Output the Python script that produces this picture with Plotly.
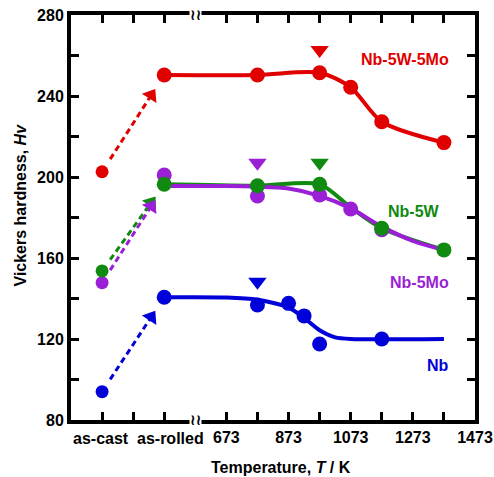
import plotly.graph_objects as go

# x positions: as-cast / as-rolled are placed on a broken temperature axis
X_CAST = 273
X_ROLL = 473
X_BREAK = 573

tick_vals = [273, 373, 473, 673, 773, 873, 973, 1073, 1173, 1273, 1373, 1473]
tick_text = ["", "", "", "673", "", "873", "", "1073", "", "1273", "", "1473"]
cat_labels = ["as-cast", "as-rolled"]

# ---- Nb-5W-5Mo (red)
red_cast = 202.6
red_x = [473, 773, 973, 1073, 1173, 1373]
red_y = [250.4, 250.4, 251.5, 244.3, 227.3, 217.0]

# ---- Nb-5W (green)
green_cast = 153.6
green_x = [473, 773, 973, 1173, 1373]
green_y = [196.4, 195.7, 196.4, 174.7, 164.0]
green_line_x = [473, 773, 973, 1073, 1173, 1373]
green_line_y = [196.4, 195.7, 196.4, 185.0, 174.7, 164.0]

# ---- Nb-5Mo (purple)
purple_cast = 147.8
purple_x = [473, 773, 973, 1073, 1173]
purple_y = [201.0, 190.6, 191.1, 184.2, 174.0]
purple_fit_x = [473, 673, 773, 873, 973, 1073, 1173, 1273, 1373]
purple_fit_y = [195.6, 195.6, 195.3, 194.3, 190.7, 184.5, 175.5, 168.5, 164.0]

# ---- Nb (blue)
blue_cast = 94.0
blue_x = [473, 773, 873, 923, 973, 1173]
blue_y = [140.6, 136.8, 137.6, 131.4, 117.5, 120.0]
blue_fit_x = [473, 673, 773, 873, 923, 973, 1023, 1073, 1373]
blue_fit_y = [140.6, 140.5, 139.4, 135.6, 130.4, 124.3, 120.8, 120.0, 120.0]

# ---- marker triangles (onset marks)
tri_x = [973, 773, 973, 773]
tri_y = [262.7, 207.0, 207.0, 148.3]

# ---- labels
labels = ["Nb-5W-5Mo", "Nb-5W", "Nb-5Mo", "Nb"]
label_x = [1395, 1366, 1395, 1395]
label_y = [257.8, 183.2, 147.8, 106.7]

RED = "#e00000"
GREEN = "#108a10"
PURPLE = "#9a1fd6"
BLUE = "#0000d8"
tri_c = [RED, PURPLE, GREEN, BLUE]

FONT = "Liberation Sans, Arial, sans-serif"

fig = go.Figure()


def arrow(cast_val, roll_val, color):
    t0, t1 = 0.13, 0.79
    xs = [X_CAST + t0 * (X_ROLL - X_CAST), X_CAST + t1 * (X_ROLL - X_CAST)]
    ys = [cast_val + t0 * (roll_val - cast_val), cast_val + t1 * (roll_val - cast_val)]
    fig.add_trace(go.Scatter(
        x=xs, y=ys, mode="lines+markers",
        line=dict(color=color, width=3, dash="6px,4px"),
        marker=dict(symbol="triangle-up", size=[0, 15], color=color, opacity=1,
                    angleref="previous", line=dict(width=0)),
        hoverinfo="skip", showlegend=False))


def dots(xs, ys, color):
    fig.add_trace(go.Scatter(x=xs, y=ys, mode="markers",
                             marker=dict(color=color, opacity=1, line=dict(width=0),
                                         size=[13] + [15] * (len(xs) - 1)),
                             showlegend=False))


def curve(xs, ys, color, sm=0.8):
    fig.add_trace(go.Scatter(x=xs, y=ys, mode="lines",
                             line=dict(color=color, width=4, shape="spline", smoothing=sm),
                             showlegend=False))


# red
arrow(red_cast, red_y[0], RED)
curve(red_x, red_y, RED)
dots([X_CAST] + red_x, [red_cast] + red_y, RED)

# green line, purple line, then markers
arrow(green_cast, green_y[0], GREEN)
arrow(purple_cast, purple_fit_y[0], PURPLE)
curve(green_line_x, green_line_y, GREEN)
curve(purple_fit_x, purple_fit_y, PURPLE)
dots([X_CAST] + purple_x, [purple_cast] + purple_y, PURPLE)
dots([X_CAST] + green_x, [green_cast] + green_y, GREEN)

# blue
arrow(blue_cast, blue_y[0], BLUE)
curve(blue_fit_x, blue_fit_y, BLUE, 0.7)
dots([X_CAST] + blue_x, [blue_cast] + blue_y, BLUE)

# onset triangles
fig.add_trace(go.Scatter(x=tri_x, y=tri_y, mode="markers",
                         marker=dict(symbol="triangle-down", size=16, color=tri_c,
                                     opacity=1, line=dict(width=0)),
                         showlegend=False))

label_colors = [RED, GREEN, PURPLE, BLUE]
for t, lx, ly, c in zip(labels, label_x, label_y, label_colors):
    fig.add_annotation(x=lx, y=ly, text="<b>%s</b>" % t, showarrow=False,
                       xanchor="right", yanchor="middle",
                       font=dict(family=FONT, size=16, color=c))

# category tick labels (as-cast / as-rolled)
for t, xv, sh in zip(cat_labels, [X_CAST, X_ROLL], [-1, 6]):
    fig.add_annotation(x=xv, xref="x", y=0, yref="paper", yanchor="top", yshift=-8,
                       xshift=sh, text="<b>%s</b>" % t, showarrow=False,
                       font=dict(family=FONT, size=16, color="black"))

# axis titles
fig.add_annotation(xref="paper", x=0.5, xshift=8, y=0, yref="paper", yshift=-47,
                   yanchor="middle", xanchor="center",
                   text="<b>Temperature, <i>T</i> / K</b>", showarrow=False,
                   font=dict(family=FONT, size=16, color="black"))
fig.add_annotation(xref="paper", x=0, xshift=-51, y=0.5, yref="paper", yshift=12,
                   textangle=-90, xanchor="center", yanchor="middle",
                   text="<b>Vickers hardness, <i>Hv</i></b>", showarrow=False,
                   font=dict(family=FONT, size=16, color="black"))

# axis break marks
for yb in (280, 80):
    fig.add_annotation(x=X_BREAK, y=yb, text="<b>≀≀</b>", showarrow=False,
                       xanchor="center", yanchor="middle", bgcolor="white",
                       borderpad=0, font=dict(family="DejaVu Sans", size=15, color="black"))

axis_common = dict(showline=True, linewidth=4, linecolor="black", mirror="ticks",
                   ticks="inside", ticklen=8, tickwidth=3, tickcolor="black",
                   showgrid=False, zeroline=False, tickangle=0, automargin=False,
                   tickfont=dict(family=FONT, size=16, color="black", weight="bold"))

fig.update_layout(
    width=494, height=477,
    margin=dict(l=71, r=19, t=15, b=57),
    paper_bgcolor="white", plot_bgcolor="white",
    xaxis=dict(range=[173, 1473], tickmode="array", tickvals=tick_vals, ticktext=tick_text,
               **axis_common),
    yaxis=dict(range=[80, 280], tickmode="array",
               tickvals=[80, 100, 120, 140, 160, 180, 200, 220, 240, 260, 280],
               ticktext=["80", "", "120", "", "160", "", "200", "", "240", "", "280"],
               **axis_common),
)

fig.write_html("out.html")
